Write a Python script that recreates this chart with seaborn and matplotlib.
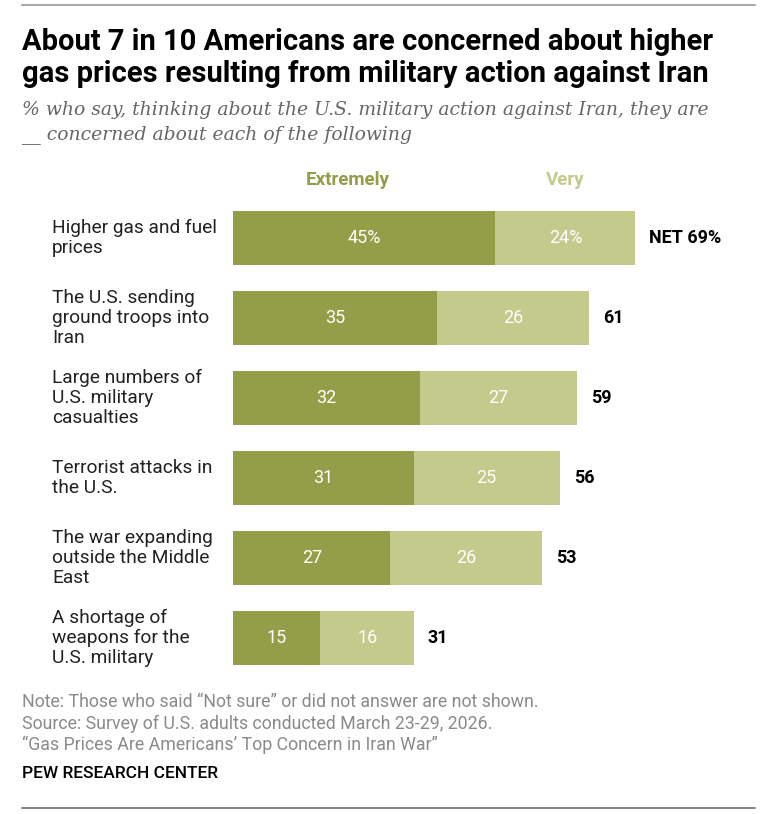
import matplotlib
matplotlib.use("Agg")
import matplotlib.pyplot as plt
import seaborn as sns
import pandas as pd
from matplotlib.lines import Line2D

sns.set_theme(style="white")
plt.rcParams['font.family'] = ['Roboto', 'DejaVu Sans']

categories = [
    "Higher gas and fuel\nprices",
    "The U.S. sending\nground troops into\nIran",
    "Large numbers of\nU.S. military\ncasualties",
    "Terrorist attacks in\nthe U.S.",
    "The war expanding\noutside the Middle\nEast",
    "A shortage of\nweapons for the\nU.S. military",
]
extremely = [45, 35, 32, 31, 27, 15]
very = [24, 26, 27, 25, 26, 16]
net = [69, 61, 59, 56, 53, 31]

dark = "#949D48"
light = "#C3CA8C"

df = pd.DataFrame({"cat": categories, "ext": extremely, "very": very,
                   "total": [e + v for e, v in zip(extremely, very)], "net": net})

W, H = 782, 814
fig = plt.figure(figsize=(W / 100, H / 100), dpi=100)
ax = fig.add_axes([233 / W, 1 - 678 / H, (755 - 233) / W, 480 / H])

sns.barplot(data=df, y="cat", x="total", color=light, orient="h", ax=ax,
            width=0.68, saturation=1, linewidth=0)
sns.barplot(data=df, y="cat", x="ext", color=dark, orient="h", ax=ax,
            width=0.68, saturation=1, linewidth=0)

ax.set_xlim(0, 89.5)
ax.set_ylim(5.5, -0.5)
ax.set_xlabel("")
ax.set_ylabel("")
ax.set_xticks([])
ax.set_yticks([])
for s in ax.spines.values():
    s.set_visible(False)

for i, row in df.iterrows():
    e, v, n = row["ext"], row["very"], row["net"]
    sfx = "%" if i == 0 else ""
    ax.text(e / 2, i, f"{e}{sfx}", ha="center", va="center", color="white",
            fontsize=13)
    ax.text(e + v / 2, i, f"{v}{sfx}", ha="center", va="center", color="white",
            fontsize=13)
    lab = f"NET {n}%" if i == 0 else f"{n}"
    ax.text(e + v + 2.4, i, lab, ha="left", va="center", color="black",
            fontsize=13, fontweight="bold")
    fig.text(52 / W, 1 - (238 + i * 80) / H, row["cat"], ha="left", va="center",
             fontsize=13.8, color="#222222", linespacing=1.12)

ax.text(19.7, -0.73, "Extremely", ha="center", va="center", color=dark,
        fontsize=13.5, fontweight="bold")
ax.text(57, -0.73, "Very", ha="center", va="center", color=light,
        fontsize=13.5, fontweight="bold")

# title & subtitle
fig.text(22 / W, 1 - 42 / H, "About 7 in 10 Americans are concerned about higher",
         fontsize=21, fontweight="bold", va="center", ha="left", color="black")
fig.text(22 / W, 1 - 74 / H, "gas prices resulting from military action against Iran",
         fontsize=21, fontweight="bold", va="center", ha="left", color="black")
fig.text(22 / W, 1 - 110 / H,
         "% who say, thinking about the U.S. military action against Iran, they are",
         fontsize=13.5, style="italic", family=['DejaVu Serif'],
         color="#666666", va="center", ha="left")
fig.text(22 / W, 1 - 135 / H, "__ concerned about each of the following",
         fontsize=13.5, style="italic", family=['DejaVu Serif'],
         color="#666666", va="center", ha="left")

# footer
notes = [
    "Note: Those who said \u201cNot sure\u201d or did not answer are not shown.",
    "Source: Survey of U.S. adults conducted March 23-29, 2026.",
    "\u201cGas Prices Are Americans\u2019 Top Concern in Iran War\u201d",
]
for k, t in enumerate(notes):
    fig.text(22 / W, 1 - (702 + k * 21.5) / H, t, fontsize=12.8, color="#8a8a8a",
             va="center", ha="left")
fig.text(22 / W, 1 - 774 / H, "PEW RESEARCH CENTER", fontsize=12.5, color="black",
         fontweight="medium", va="center", ha="left")

# rules
fig.add_artist(Line2D([22 / W, 755 / W], [1 - 5 / H, 1 - 5 / H], color="#aaaaaa", lw=1.5))
fig.add_artist(Line2D([22 / W, 755 / W], [1 - 808 / H, 1 - 808 / H], color="#888888", lw=1.5))

fig.savefig("out.png", dpi=100)
